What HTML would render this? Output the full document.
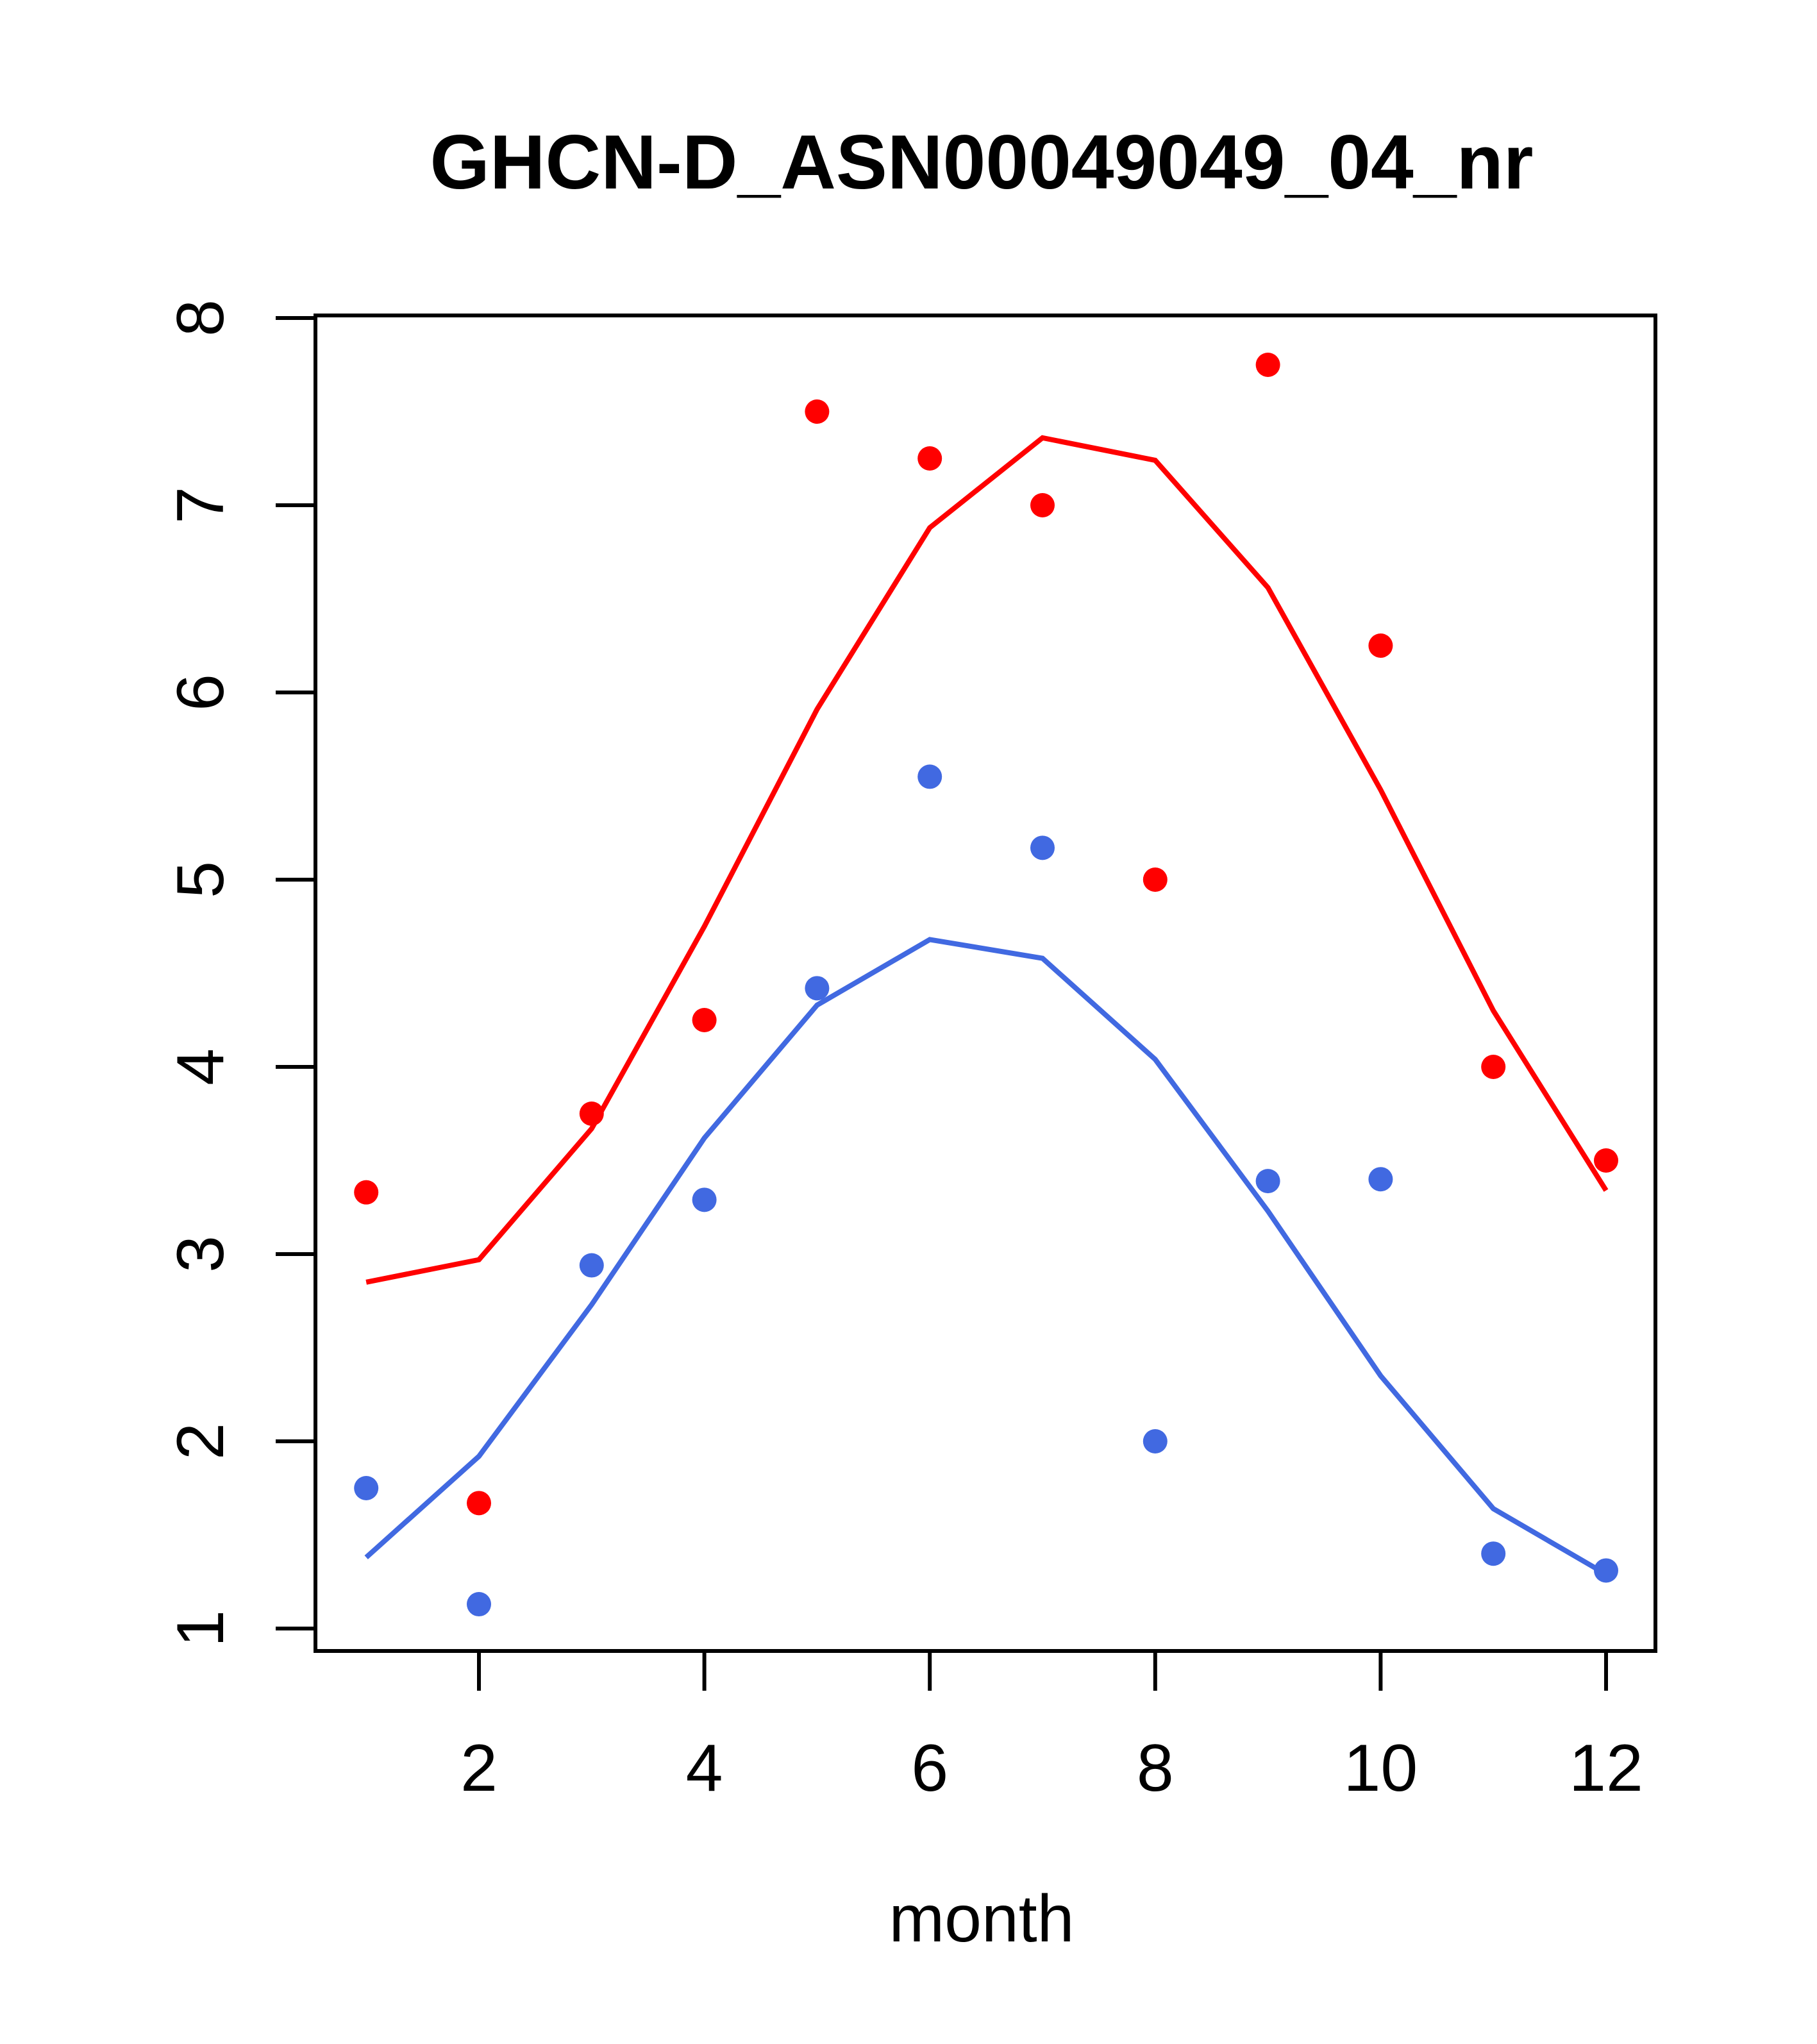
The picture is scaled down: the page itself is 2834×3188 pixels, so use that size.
<!DOCTYPE html>
<html><head><meta charset="utf-8"><style>html,body{margin:0;padding:0;background:#fff}svg{display:block}</style></head>
<body>
<svg id="chart" width="2834" height="3188" viewBox="0 0 2834 3188" xmlns="http://www.w3.org/2000/svg" font-family="Liberation Sans, sans-serif">
<text x="1531" y="294" font-size="120" font-weight="bold" text-anchor="middle">GHCN-D_ASN00049049_04_nr</text>
<rect x="492" y="492" width="2090" height="2083" fill="none" stroke="#000" stroke-width="6"/>
<text x="1531" y="3028" font-size="104" text-anchor="middle">month</text>
<g id="axes"></g><g id="series"></g>
</svg>
<script>
const months=[1,2,3,4,5,6,7,8,9,10,11,12];
const redPoints=[3.33,1.67,3.75,4.25,7.5,7.25,7.0,5.0,7.75,6.25,4.0,3.5];
const redLine=[2.85,2.97,3.67,4.75,5.91,6.88,7.36,7.24,6.56,5.48,4.30,3.34];
const bluePoints=[1.75,1.13,2.94,3.29,4.42,5.55,5.17,2.0,3.39,3.40,1.40,1.31];
const blueLine=[1.38,1.92,2.73,3.62,4.33,4.68,4.58,4.04,3.23,2.35,1.64,1.29];
const xTicks=[2,4,6,8,10,12];
const yTicks=[1,2,3,4,5,6,7,8];
const NS="http://www.w3.org/2000/svg";
function sx(m){return 747+(m-2)*175.8;}
function sy(v){return 2540-(v-1)*292;}
const axes=document.getElementById('axes'),series=document.getElementById('series');
function mk(tag,attrs,parent){const e=document.createElementNS(NS,tag);for(const k in attrs)e.setAttribute(k,attrs[k]);parent.appendChild(e);return e;}
xTicks.forEach(t=>{
 const l=mk('line',{x1:sx(t),x2:sx(t),y1:2575,y2:2637,stroke:'#000','stroke-width':6},axes);
 
 
 const tx=mk('text',{x:sx(t),y:2793,'font-size':104,'text-anchor':'middle'},axes);tx.textContent=t;
 
 
});
yTicks.forEach(t=>{
 const l=mk('line',{x1:430,x2:492,y1:sy(t),y2:sy(t),stroke:'#000','stroke-width':6},axes);
 
 
 const tx=mk('text',{x:348,y:sy(t),'font-size':104,'text-anchor':'middle',transform:`rotate(-90 348 ${sy(t)})`},axes);tx.textContent=t;
 
 
});
function line(vals,color,name){
 const p=mk('polyline',{points:vals.map((v,i)=>sx(months[i])+','+sy(v)).join(' '),fill:'none',stroke:color,'stroke-width':8},series);
 
 
}
function pts(vals,color,name){
 vals.forEach((v,i)=>{const c=mk('circle',{cx:sx(months[i]),cy:sy(v),r:19,fill:color},series);
 
 });
}
line(redLine,'#ff0000','red-smooth-line');
line(blueLine,'#4169e1','blue-smooth-line');
pts(redPoints,'#ff0000','red-point');
pts(bluePoints,'#4169e1','blue-point');
</script>
</body></html>
